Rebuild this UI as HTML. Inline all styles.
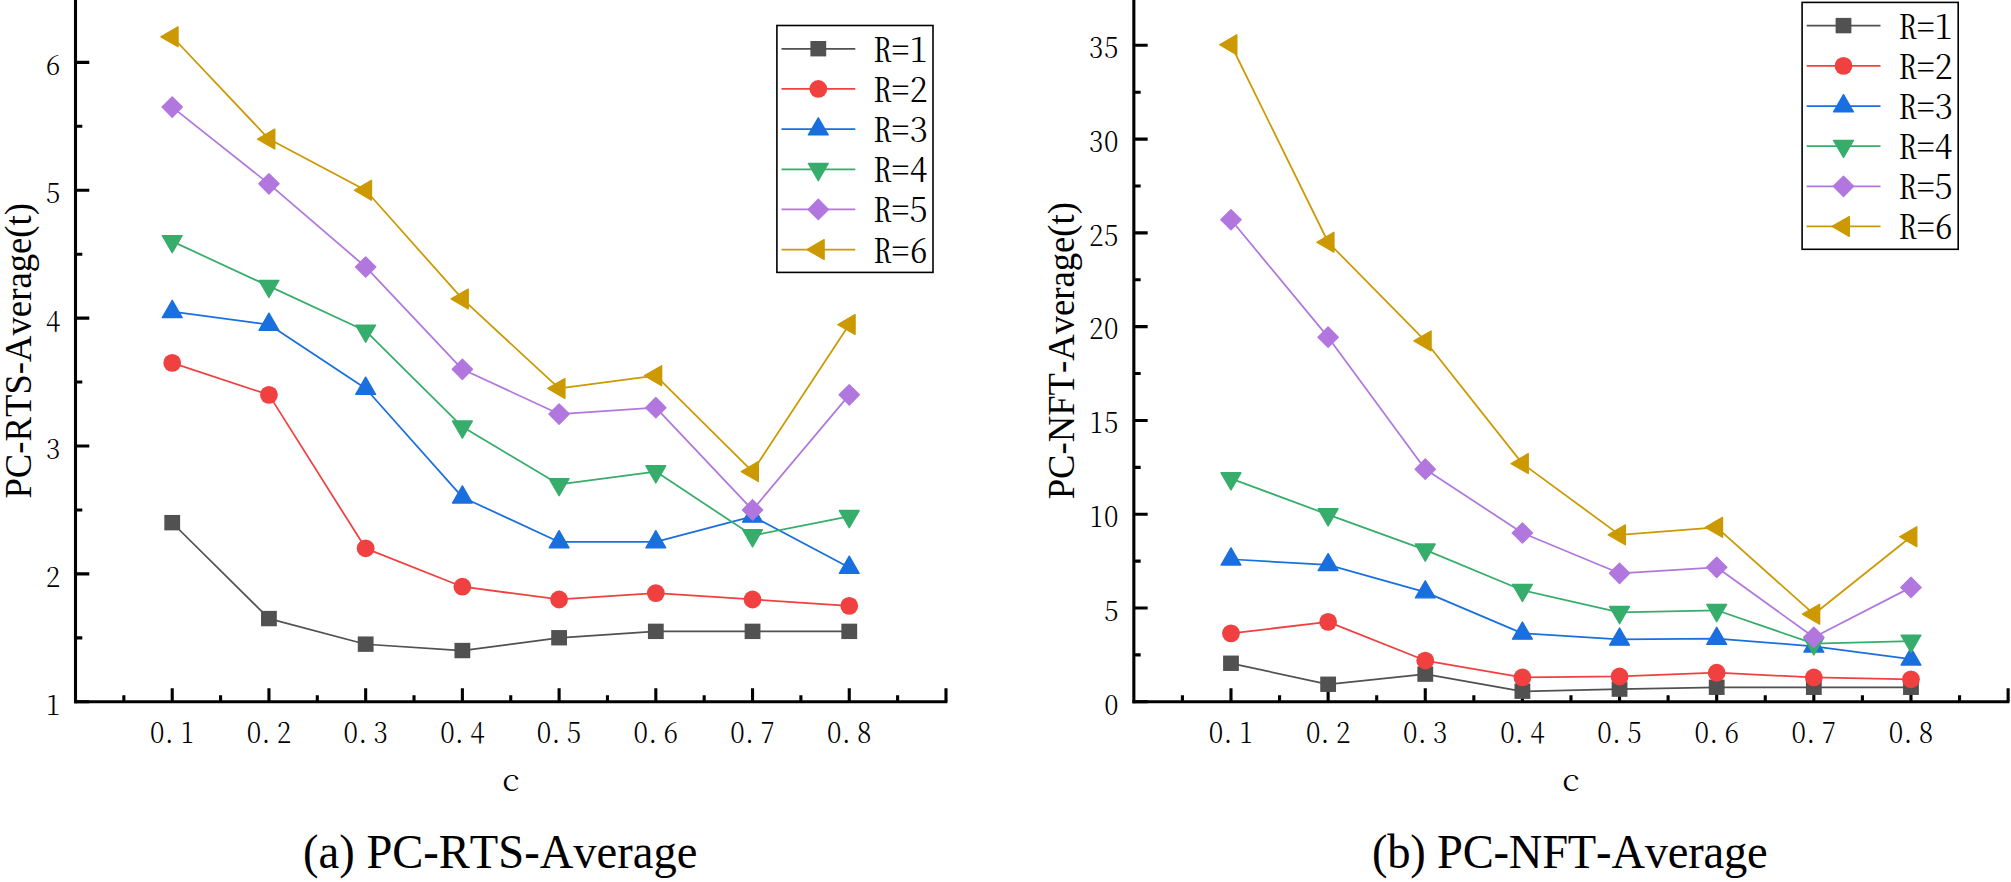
<!DOCTYPE html>
<html lang="en">
<head>
<meta charset="utf-8">
<title>PC-RTS-Average and PC-NFT-Average</title>
<style>
html,body{margin:0;padding:0;background:#fff;}
body{width:2011px;height:882px;overflow:hidden;}
svg{display:block;}
text{white-space:pre;}
</style>
</head>
<body>
<svg width="2011" height="882" viewBox="0 0 2011 882">
<rect width="2011" height="882" fill="#fff"/>
<g id="chart-a">
<g stroke="#000" stroke-width="3.1" fill="none" stroke-linecap="butt">
<path d="M75.5 703.3 V-5"/>
<path d="M74.1 701.8 H947.4"/>
<path d="M123.86 701.8 v-6.6 M172.22 701.8 v-13.6 M220.58 701.8 v-6.6 M268.94 701.8 v-13.6 M317.3 701.8 v-6.6 M365.66 701.8 v-13.6 M414.02 701.8 v-6.6 M462.38 701.8 v-13.6 M510.74 701.8 v-6.6 M559.1 701.8 v-13.6 M607.46 701.8 v-6.6 M655.82 701.8 v-13.6 M704.18 701.8 v-6.6 M752.54 701.8 v-13.6 M800.9 701.8 v-6.6 M849.26 701.8 v-13.6 M897.62 701.8 v-6.6 M945.98 701.8 v-13.6"/>
<path d="M75.5 701.8 h13.8 M75.5 637.85 h6.8 M75.5 573.91 h13.8 M75.5 509.96 h6.8 M75.5 446.02 h13.8 M75.5 382.07 h6.8 M75.5 318.13 h13.8 M75.5 254.18 h6.8 M75.5 190.24 h13.8 M75.5 126.29 h6.8 M75.5 62.35 h13.8 M75.5 -1.6 h6.8"/>
</g>
<g font-family='"Noto Serif CJK SC", "Liberation Serif", serif' font-weight="300" fill="#000">
<text transform="translate(0,743.2) scale(0.93,1)" x="169.05 181.96 201.31" y="0" font-size="28.3" text-anchor="middle">0.1</text>
<text transform="translate(0,743.2) scale(0.93,1)" x="273.05 285.96 305.31" y="0" font-size="28.3" text-anchor="middle">0.2</text>
<text transform="translate(0,743.2) scale(0.93,1)" x="377.05 389.96 409.31" y="0" font-size="28.3" text-anchor="middle">0.3</text>
<text transform="translate(0,743.2) scale(0.93,1)" x="481.05 493.96 513.31" y="0" font-size="28.3" text-anchor="middle">0.4</text>
<text transform="translate(0,743.2) scale(0.93,1)" x="585.05 597.96 617.31" y="0" font-size="28.3" text-anchor="middle">0.5</text>
<text transform="translate(0,743.2) scale(0.93,1)" x="689.05 701.96 721.31" y="0" font-size="28.3" text-anchor="middle">0.6</text>
<text transform="translate(0,743.2) scale(0.93,1)" x="793.05 805.96 825.31" y="0" font-size="28.3" text-anchor="middle">0.7</text>
<text transform="translate(0,743.2) scale(0.93,1)" x="897.05 909.96 929.31" y="0" font-size="28.3" text-anchor="middle">0.8</text>
<text transform="translate(0,714.5) scale(0.93,1)" x="56.99" y="0" font-size="28.3" text-anchor="middle">1</text>
<text transform="translate(0,586.61) scale(0.93,1)" x="56.99" y="0" font-size="28.3" text-anchor="middle">2</text>
<text transform="translate(0,458.72) scale(0.93,1)" x="56.99" y="0" font-size="28.3" text-anchor="middle">3</text>
<text transform="translate(0,330.83) scale(0.93,1)" x="56.99" y="0" font-size="28.3" text-anchor="middle">4</text>
<text transform="translate(0,202.94) scale(0.93,1)" x="56.99" y="0" font-size="28.3" text-anchor="middle">5</text>
<text transform="translate(0,75.05) scale(0.93,1)" x="56.99" y="0" font-size="28.3" text-anchor="middle">6</text>
</g>
<polyline points="172.22,522.75 268.94,618.67 365.66,644.25 462.38,650.64 559.1,637.85 655.82,631.46 752.54,631.46 849.26,631.46" fill="none" stroke="#515151" stroke-width="1.75" stroke-linejoin="round"/>
<g><rect x="164.32" y="514.95" width="15.8" height="15.4" fill="#515151"/><rect x="261.04" y="610.87" width="15.8" height="15.4" fill="#515151"/><rect x="357.76" y="636.45" width="15.8" height="15.4" fill="#515151"/><rect x="454.48" y="642.84" width="15.8" height="15.4" fill="#515151"/><rect x="551.2" y="630.05" width="15.8" height="15.4" fill="#515151"/><rect x="647.92" y="623.66" width="15.8" height="15.4" fill="#515151"/><rect x="744.64" y="623.66" width="15.8" height="15.4" fill="#515151"/><rect x="841.36" y="623.66" width="15.8" height="15.4" fill="#515151"/></g>
<polyline points="172.22,362.89 268.94,394.86 365.66,548.33 462.38,586.7 559.1,599.49 655.82,593.09 752.54,599.49 849.26,605.88" fill="none" stroke="#F14040" stroke-width="1.75" stroke-linejoin="round"/>
<g><circle cx="172.22" cy="362.89" r="8.9" fill="#F14040"/><circle cx="268.94" cy="394.86" r="8.9" fill="#F14040"/><circle cx="365.66" cy="548.33" r="8.9" fill="#F14040"/><circle cx="462.38" cy="586.7" r="8.9" fill="#F14040"/><circle cx="559.1" cy="599.49" r="8.9" fill="#F14040"/><circle cx="655.82" cy="593.09" r="8.9" fill="#F14040"/><circle cx="752.54" cy="599.49" r="8.9" fill="#F14040"/><circle cx="849.26" cy="605.88" r="8.9" fill="#F14040"/></g>
<polyline points="172.22,311.74 268.94,324.52 365.66,388.47 462.38,497.18 559.1,541.94 655.82,541.94 752.54,516.36 849.26,567.52" fill="none" stroke="#1A6FDF" stroke-width="1.75" stroke-linejoin="round"/>
<g><polygon points="172.22,300.44 182.12,317.54 162.32,317.54" fill="#1A6FDF" stroke="#1A6FDF" stroke-width="1.4" stroke-linejoin="round"/><polygon points="268.94,313.22 278.84,330.32 259.04,330.32" fill="#1A6FDF" stroke="#1A6FDF" stroke-width="1.4" stroke-linejoin="round"/><polygon points="365.66,377.17 375.56,394.27 355.76,394.27" fill="#1A6FDF" stroke="#1A6FDF" stroke-width="1.4" stroke-linejoin="round"/><polygon points="462.38,485.88 472.28,502.98 452.48,502.98" fill="#1A6FDF" stroke="#1A6FDF" stroke-width="1.4" stroke-linejoin="round"/><polygon points="559.1,530.64 569,547.74 549.2,547.74" fill="#1A6FDF" stroke="#1A6FDF" stroke-width="1.4" stroke-linejoin="round"/><polygon points="655.82,530.64 665.72,547.74 645.92,547.74" fill="#1A6FDF" stroke="#1A6FDF" stroke-width="1.4" stroke-linejoin="round"/><polygon points="752.54,505.06 762.44,522.16 742.64,522.16" fill="#1A6FDF" stroke="#1A6FDF" stroke-width="1.4" stroke-linejoin="round"/><polygon points="849.26,556.22 859.16,573.32 839.36,573.32" fill="#1A6FDF" stroke="#1A6FDF" stroke-width="1.4" stroke-linejoin="round"/></g>
<polyline points="172.22,241.4 268.94,286.16 365.66,330.92 462.38,426.84 559.1,484.39 655.82,471.6 752.54,535.54 849.26,516.36" fill="none" stroke="#37AD6B" stroke-width="1.75" stroke-linejoin="round"/>
<g><polygon points="172.22,252.7 182.12,235.6 162.32,235.6" fill="#37AD6B" stroke="#37AD6B" stroke-width="1.4" stroke-linejoin="round"/><polygon points="268.94,297.46 278.84,280.36 259.04,280.36" fill="#37AD6B" stroke="#37AD6B" stroke-width="1.4" stroke-linejoin="round"/><polygon points="365.66,342.22 375.56,325.12 355.76,325.12" fill="#37AD6B" stroke="#37AD6B" stroke-width="1.4" stroke-linejoin="round"/><polygon points="462.38,438.14 472.28,421.04 452.48,421.04" fill="#37AD6B" stroke="#37AD6B" stroke-width="1.4" stroke-linejoin="round"/><polygon points="559.1,495.69 569,478.59 549.2,478.59" fill="#37AD6B" stroke="#37AD6B" stroke-width="1.4" stroke-linejoin="round"/><polygon points="655.82,482.9 665.72,465.8 645.92,465.8" fill="#37AD6B" stroke="#37AD6B" stroke-width="1.4" stroke-linejoin="round"/><polygon points="752.54,546.84 762.44,529.74 742.64,529.74" fill="#37AD6B" stroke="#37AD6B" stroke-width="1.4" stroke-linejoin="round"/><polygon points="849.26,527.66 859.16,510.56 839.36,510.56" fill="#37AD6B" stroke="#37AD6B" stroke-width="1.4" stroke-linejoin="round"/></g>
<polyline points="172.22,107.11 268.94,183.85 365.66,266.97 462.38,369.29 559.1,414.05 655.82,407.65 752.54,509.96 849.26,394.86" fill="none" stroke="#B177DE" stroke-width="1.75" stroke-linejoin="round"/>
<g><polygon points="172.22,97.01 182.32,107.11 172.22,117.21 162.12,107.11" fill="#B177DE" stroke="#B177DE" stroke-width="1.4" stroke-linejoin="round"/><polygon points="268.94,173.75 279.04,183.85 268.94,193.95 258.84,183.85" fill="#B177DE" stroke="#B177DE" stroke-width="1.4" stroke-linejoin="round"/><polygon points="365.66,256.87 375.76,266.97 365.66,277.07 355.56,266.97" fill="#B177DE" stroke="#B177DE" stroke-width="1.4" stroke-linejoin="round"/><polygon points="462.38,359.19 472.48,369.29 462.38,379.39 452.28,369.29" fill="#B177DE" stroke="#B177DE" stroke-width="1.4" stroke-linejoin="round"/><polygon points="559.1,403.95 569.2,414.05 559.1,424.15 549,414.05" fill="#B177DE" stroke="#B177DE" stroke-width="1.4" stroke-linejoin="round"/><polygon points="655.82,397.55 665.92,407.65 655.82,417.75 645.72,407.65" fill="#B177DE" stroke="#B177DE" stroke-width="1.4" stroke-linejoin="round"/><polygon points="752.54,499.86 762.64,509.96 752.54,520.06 742.44,509.96" fill="#B177DE" stroke="#B177DE" stroke-width="1.4" stroke-linejoin="round"/><polygon points="849.26,384.76 859.36,394.86 849.26,404.96 839.16,394.86" fill="#B177DE" stroke="#B177DE" stroke-width="1.4" stroke-linejoin="round"/></g>
<polyline points="172.22,36.77 268.94,139.08 365.66,190.24 462.38,298.95 559.1,388.47 655.82,375.68 752.54,471.6 849.26,324.52" fill="none" stroke="#CC9900" stroke-width="1.75" stroke-linejoin="round"/>
<g><polygon points="160.92,36.77 178.02,26.87 178.02,46.67" fill="#CC9900" stroke="#CC9900" stroke-width="1.4" stroke-linejoin="round"/><polygon points="257.64,139.08 274.74,129.18 274.74,148.98" fill="#CC9900" stroke="#CC9900" stroke-width="1.4" stroke-linejoin="round"/><polygon points="354.36,190.24 371.46,180.34 371.46,200.14" fill="#CC9900" stroke="#CC9900" stroke-width="1.4" stroke-linejoin="round"/><polygon points="451.08,298.95 468.18,289.05 468.18,308.85" fill="#CC9900" stroke="#CC9900" stroke-width="1.4" stroke-linejoin="round"/><polygon points="547.8,388.47 564.9,378.57 564.9,398.37" fill="#CC9900" stroke="#CC9900" stroke-width="1.4" stroke-linejoin="round"/><polygon points="644.52,375.68 661.62,365.78 661.62,385.58" fill="#CC9900" stroke="#CC9900" stroke-width="1.4" stroke-linejoin="round"/><polygon points="741.24,471.6 758.34,461.7 758.34,481.5" fill="#CC9900" stroke="#CC9900" stroke-width="1.4" stroke-linejoin="round"/><polygon points="837.96,324.52 855.06,314.62 855.06,334.42" fill="#CC9900" stroke="#CC9900" stroke-width="1.4" stroke-linejoin="round"/></g>
<rect x="776.9" y="25.5" width="156.1" height="246.9" fill="#fff" stroke="#000" stroke-width="1.6"/>
<path d="M781.5 48.8 H855.3" stroke="#515151" stroke-width="1.75"/>
<rect x="810.4" y="41" width="15.8" height="15.4" fill="#515151"/>
<text transform="translate(0,61.8) scale(1.085,1)" x="813.09 829.86 846.64" y="0" font-size="33" text-anchor="middle" font-family='"Noto Serif CJK SC", "Liberation Serif", serif' font-weight="300" style="font-feature-settings:'hwid'">R=1</text>
<path d="M781.5 88.95 H855.3" stroke="#F14040" stroke-width="1.75"/>
<circle cx="818.3" cy="88.95" r="8.9" fill="#F14040"/>
<text transform="translate(0,101.95) scale(1.085,1)" x="813.09 829.86 846.64" y="0" font-size="33" text-anchor="middle" font-family='"Noto Serif CJK SC", "Liberation Serif", serif' font-weight="300" style="font-feature-settings:'hwid'">R=2</text>
<path d="M781.5 129.1 H855.3" stroke="#1A6FDF" stroke-width="1.75"/>
<polygon points="818.3,117.8 828.2,134.9 808.4,134.9" fill="#1A6FDF" stroke="#1A6FDF" stroke-width="1.4" stroke-linejoin="round"/>
<text transform="translate(0,142.1) scale(1.085,1)" x="813.09 829.86 846.64" y="0" font-size="33" text-anchor="middle" font-family='"Noto Serif CJK SC", "Liberation Serif", serif' font-weight="300" style="font-feature-settings:'hwid'">R=3</text>
<path d="M781.5 169.25 H855.3" stroke="#37AD6B" stroke-width="1.75"/>
<polygon points="818.3,180.55 828.2,163.45 808.4,163.45" fill="#37AD6B" stroke="#37AD6B" stroke-width="1.4" stroke-linejoin="round"/>
<text transform="translate(0,182.25) scale(1.085,1)" x="813.09 829.86 846.64" y="0" font-size="33" text-anchor="middle" font-family='"Noto Serif CJK SC", "Liberation Serif", serif' font-weight="300" style="font-feature-settings:'hwid'">R=4</text>
<path d="M781.5 209.4 H855.3" stroke="#B177DE" stroke-width="1.75"/>
<polygon points="818.3,199.3 828.4,209.4 818.3,219.5 808.2,209.4" fill="#B177DE" stroke="#B177DE" stroke-width="1.4" stroke-linejoin="round"/>
<text transform="translate(0,222.4) scale(1.085,1)" x="813.09 829.86 846.64" y="0" font-size="33" text-anchor="middle" font-family='"Noto Serif CJK SC", "Liberation Serif", serif' font-weight="300" style="font-feature-settings:'hwid'">R=5</text>
<path d="M781.5 249.55 H855.3" stroke="#CC9900" stroke-width="1.75"/>
<polygon points="807,249.55 824.1,239.65 824.1,259.45" fill="#CC9900" stroke="#CC9900" stroke-width="1.4" stroke-linejoin="round"/>
<text transform="translate(0,262.55) scale(1.085,1)" x="813.09 829.86 846.64" y="0" font-size="33" text-anchor="middle" font-family='"Noto Serif CJK SC", "Liberation Serif", serif' font-weight="300" style="font-feature-settings:'hwid'">R=6</text>
<text transform="translate(510.9,791.1) scale(1.03,1)" x="0" y="0" font-size="31.8" text-anchor="middle" font-family='"Noto Serif CJK SC", "Liberation Serif", serif' font-weight="300">c</text>
<text transform="translate(31,350.8) rotate(-90) scale(1,1.04)" x="0" y="0" font-size="36.68" text-anchor="middle" textLength="295.5" lengthAdjust="spacing" font-family='"Liberation Serif", "Noto Serif CJK SC", serif' style="font-kerning:none">PC-RTS-Average(t)</text>
<text transform="translate(303.07,868.1) scale(1,1.03)" x="0" y="0" font-size="46.56" textLength="394.3" lengthAdjust="spacing" font-family='"Liberation Serif", "Noto Serif CJK SC", serif' style="font-kerning:none">(a) PC-RTS-Average</text>
</g>
<g id="chart-b">
<g stroke="#000" stroke-width="3.1" fill="none" stroke-linecap="butt">
<path d="M1133.85 703.3 V-5"/>
<path d="M1132.45 701.8 H2009.4"/>
<path d="M1182.42 701.8 v-6.6 M1230.99 701.8 v-13.6 M1279.56 701.8 v-6.6 M1328.13 701.8 v-13.6 M1376.7 701.8 v-6.6 M1425.27 701.8 v-13.6 M1473.84 701.8 v-6.6 M1522.41 701.8 v-13.6 M1570.98 701.8 v-6.6 M1619.55 701.8 v-13.6 M1668.12 701.8 v-6.6 M1716.69 701.8 v-13.6 M1765.26 701.8 v-6.6 M1813.83 701.8 v-13.6 M1862.4 701.8 v-6.6 M1910.97 701.8 v-13.6 M1959.54 701.8 v-6.6 M2008.11 701.8 v-13.6"/>
<path d="M1133.85 701.8 h13.8 M1133.85 654.91 h6.8 M1133.85 608.01 h13.8 M1133.85 561.12 h6.8 M1133.85 514.23 h13.8 M1133.85 467.34 h6.8 M1133.85 420.44 h13.8 M1133.85 373.55 h6.8 M1133.85 326.66 h13.8 M1133.85 279.77 h6.8 M1133.85 232.87 h13.8 M1133.85 185.98 h6.8 M1133.85 139.09 h13.8 M1133.85 92.2 h6.8 M1133.85 45.3 h13.8 M1133.85 -1.59 h6.8"/>
</g>
<g font-family='"Noto Serif CJK SC", "Liberation Serif", serif' font-weight="300" fill="#000">
<text transform="translate(0,743.2) scale(0.93,1)" x="1307.52 1320.42 1339.77" y="0" font-size="28.3" text-anchor="middle">0.1</text>
<text transform="translate(0,743.2) scale(0.93,1)" x="1411.97 1424.87 1444.23" y="0" font-size="28.3" text-anchor="middle">0.2</text>
<text transform="translate(0,743.2) scale(0.93,1)" x="1516.42 1529.32 1548.68" y="0" font-size="28.3" text-anchor="middle">0.3</text>
<text transform="translate(0,743.2) scale(0.93,1)" x="1620.87 1633.77 1653.13" y="0" font-size="28.3" text-anchor="middle">0.4</text>
<text transform="translate(0,743.2) scale(0.93,1)" x="1725.32 1738.23 1757.58" y="0" font-size="28.3" text-anchor="middle">0.5</text>
<text transform="translate(0,743.2) scale(0.93,1)" x="1829.77 1842.68 1862.03" y="0" font-size="28.3" text-anchor="middle">0.6</text>
<text transform="translate(0,743.2) scale(0.93,1)" x="1934.23 1947.13 1966.48" y="0" font-size="28.3" text-anchor="middle">0.7</text>
<text transform="translate(0,743.2) scale(0.93,1)" x="2038.68 2051.58 2070.94" y="0" font-size="28.3" text-anchor="middle">0.8</text>
<text transform="translate(0,714.5) scale(0.93,1)" x="1195" y="0" font-size="28.3" text-anchor="middle">0</text>
<text transform="translate(0,620.72) scale(0.93,1)" x="1195" y="0" font-size="28.3" text-anchor="middle">5</text>
<text transform="translate(0,526.93) scale(0.93,1)" x="1178.87 1195" y="0" font-size="28.3" text-anchor="middle">10</text>
<text transform="translate(0,433.14) scale(0.93,1)" x="1178.87 1195" y="0" font-size="28.3" text-anchor="middle">15</text>
<text transform="translate(0,339.36) scale(0.93,1)" x="1178.87 1195" y="0" font-size="28.3" text-anchor="middle">20</text>
<text transform="translate(0,245.57) scale(0.93,1)" x="1178.87 1195" y="0" font-size="28.3" text-anchor="middle">25</text>
<text transform="translate(0,151.79) scale(0.93,1)" x="1178.87 1195" y="0" font-size="28.3" text-anchor="middle">30</text>
<text transform="translate(0,58) scale(0.93,1)" x="1178.87 1195" y="0" font-size="28.3" text-anchor="middle">35</text>
</g>
<polyline points="1230.99,663.35 1328.13,684.36 1425.27,674.23 1522.41,691.3 1619.55,689.23 1716.69,687.36 1813.83,687.36 1910.97,687.36" fill="none" stroke="#515151" stroke-width="1.75" stroke-linejoin="round"/>
<g><rect x="1223.09" y="655.55" width="15.8" height="15.4" fill="#515151"/><rect x="1320.23" y="676.56" width="15.8" height="15.4" fill="#515151"/><rect x="1417.37" y="666.43" width="15.8" height="15.4" fill="#515151"/><rect x="1514.51" y="683.5" width="15.8" height="15.4" fill="#515151"/><rect x="1611.65" y="681.43" width="15.8" height="15.4" fill="#515151"/><rect x="1708.79" y="679.56" width="15.8" height="15.4" fill="#515151"/><rect x="1805.93" y="679.56" width="15.8" height="15.4" fill="#515151"/><rect x="1903.07" y="679.56" width="15.8" height="15.4" fill="#515151"/></g>
<polyline points="1230.99,633.34 1328.13,621.9 1425.27,660.53 1522.41,677.42 1619.55,676.48 1716.69,672.73 1813.83,677.42 1910.97,679.29" fill="none" stroke="#F14040" stroke-width="1.75" stroke-linejoin="round"/>
<g><circle cx="1230.99" cy="633.34" r="8.9" fill="#F14040"/><circle cx="1328.13" cy="621.9" r="8.9" fill="#F14040"/><circle cx="1425.27" cy="660.53" r="8.9" fill="#F14040"/><circle cx="1522.41" cy="677.42" r="8.9" fill="#F14040"/><circle cx="1619.55" cy="676.48" r="8.9" fill="#F14040"/><circle cx="1716.69" cy="672.73" r="8.9" fill="#F14040"/><circle cx="1813.83" cy="677.42" r="8.9" fill="#F14040"/><circle cx="1910.97" cy="679.29" r="8.9" fill="#F14040"/></g>
<polyline points="1230.99,559.25 1328.13,564.87 1425.27,592.07 1522.41,633.34 1619.55,639.34 1716.69,638.59 1813.83,646.28 1910.97,659.22" fill="none" stroke="#1A6FDF" stroke-width="1.75" stroke-linejoin="round"/>
<g><polygon points="1230.99,547.95 1240.89,565.05 1221.09,565.05" fill="#1A6FDF" stroke="#1A6FDF" stroke-width="1.4" stroke-linejoin="round"/><polygon points="1328.13,553.57 1338.03,570.67 1318.23,570.67" fill="#1A6FDF" stroke="#1A6FDF" stroke-width="1.4" stroke-linejoin="round"/><polygon points="1425.27,580.77 1435.17,597.87 1415.37,597.87" fill="#1A6FDF" stroke="#1A6FDF" stroke-width="1.4" stroke-linejoin="round"/><polygon points="1522.41,622.04 1532.31,639.14 1512.51,639.14" fill="#1A6FDF" stroke="#1A6FDF" stroke-width="1.4" stroke-linejoin="round"/><polygon points="1619.55,628.04 1629.45,645.14 1609.65,645.14" fill="#1A6FDF" stroke="#1A6FDF" stroke-width="1.4" stroke-linejoin="round"/><polygon points="1716.69,627.29 1726.59,644.39 1706.79,644.39" fill="#1A6FDF" stroke="#1A6FDF" stroke-width="1.4" stroke-linejoin="round"/><polygon points="1813.83,634.98 1823.73,652.08 1803.93,652.08" fill="#1A6FDF" stroke="#1A6FDF" stroke-width="1.4" stroke-linejoin="round"/><polygon points="1910.97,647.92 1920.87,665.02 1901.07,665.02" fill="#1A6FDF" stroke="#1A6FDF" stroke-width="1.4" stroke-linejoin="round"/></g>
<polyline points="1230.99,478.59 1328.13,514.61 1425.27,549.87 1522.41,590.2 1619.55,612.33 1716.69,610.27 1813.83,643.65 1910.97,641.03" fill="none" stroke="#37AD6B" stroke-width="1.75" stroke-linejoin="round"/>
<g><polygon points="1230.99,489.89 1240.89,472.79 1221.09,472.79" fill="#37AD6B" stroke="#37AD6B" stroke-width="1.4" stroke-linejoin="round"/><polygon points="1328.13,525.91 1338.03,508.81 1318.23,508.81" fill="#37AD6B" stroke="#37AD6B" stroke-width="1.4" stroke-linejoin="round"/><polygon points="1425.27,561.17 1435.17,544.07 1415.37,544.07" fill="#37AD6B" stroke="#37AD6B" stroke-width="1.4" stroke-linejoin="round"/><polygon points="1522.41,601.5 1532.31,584.4 1512.51,584.4" fill="#37AD6B" stroke="#37AD6B" stroke-width="1.4" stroke-linejoin="round"/><polygon points="1619.55,623.63 1629.45,606.53 1609.65,606.53" fill="#37AD6B" stroke="#37AD6B" stroke-width="1.4" stroke-linejoin="round"/><polygon points="1716.69,621.57 1726.59,604.47 1706.79,604.47" fill="#37AD6B" stroke="#37AD6B" stroke-width="1.4" stroke-linejoin="round"/><polygon points="1813.83,654.95 1823.73,637.85 1803.93,637.85" fill="#37AD6B" stroke="#37AD6B" stroke-width="1.4" stroke-linejoin="round"/><polygon points="1910.97,652.33 1920.87,635.23 1901.07,635.23" fill="#37AD6B" stroke="#37AD6B" stroke-width="1.4" stroke-linejoin="round"/></g>
<polyline points="1230.99,219.75 1328.13,337.16 1425.27,469.21 1522.41,532.99 1619.55,573.31 1716.69,567.31 1813.83,637.28 1910.97,587.38" fill="none" stroke="#B177DE" stroke-width="1.75" stroke-linejoin="round"/>
<g><polygon points="1230.99,209.65 1241.09,219.75 1230.99,229.85 1220.89,219.75" fill="#B177DE" stroke="#B177DE" stroke-width="1.4" stroke-linejoin="round"/><polygon points="1328.13,327.06 1338.23,337.16 1328.13,347.26 1318.03,337.16" fill="#B177DE" stroke="#B177DE" stroke-width="1.4" stroke-linejoin="round"/><polygon points="1425.27,459.11 1435.37,469.21 1425.27,479.31 1415.17,469.21" fill="#B177DE" stroke="#B177DE" stroke-width="1.4" stroke-linejoin="round"/><polygon points="1522.41,522.89 1532.51,532.99 1522.41,543.09 1512.31,532.99" fill="#B177DE" stroke="#B177DE" stroke-width="1.4" stroke-linejoin="round"/><polygon points="1619.55,563.21 1629.65,573.31 1619.55,583.41 1609.45,573.31" fill="#B177DE" stroke="#B177DE" stroke-width="1.4" stroke-linejoin="round"/><polygon points="1716.69,557.21 1726.79,567.31 1716.69,577.41 1706.59,567.31" fill="#B177DE" stroke="#B177DE" stroke-width="1.4" stroke-linejoin="round"/><polygon points="1813.83,627.18 1823.93,637.28 1813.83,647.38 1803.73,637.28" fill="#B177DE" stroke="#B177DE" stroke-width="1.4" stroke-linejoin="round"/><polygon points="1910.97,577.28 1921.07,587.38 1910.97,597.48 1900.87,587.38" fill="#B177DE" stroke="#B177DE" stroke-width="1.4" stroke-linejoin="round"/></g>
<polyline points="1230.99,44.74 1328.13,242.25 1425.27,340.92 1522.41,463.59 1619.55,534.86 1716.69,527.36 1813.83,614.2 1910.97,536.74" fill="none" stroke="#CC9900" stroke-width="1.75" stroke-linejoin="round"/>
<g><polygon points="1219.69,44.74 1236.79,34.84 1236.79,54.64" fill="#CC9900" stroke="#CC9900" stroke-width="1.4" stroke-linejoin="round"/><polygon points="1316.83,242.25 1333.93,232.35 1333.93,252.15" fill="#CC9900" stroke="#CC9900" stroke-width="1.4" stroke-linejoin="round"/><polygon points="1413.97,340.92 1431.07,331.02 1431.07,350.82" fill="#CC9900" stroke="#CC9900" stroke-width="1.4" stroke-linejoin="round"/><polygon points="1511.11,463.59 1528.21,453.69 1528.21,473.49" fill="#CC9900" stroke="#CC9900" stroke-width="1.4" stroke-linejoin="round"/><polygon points="1608.25,534.86 1625.35,524.96 1625.35,544.76" fill="#CC9900" stroke="#CC9900" stroke-width="1.4" stroke-linejoin="round"/><polygon points="1705.39,527.36 1722.49,517.46 1722.49,537.26" fill="#CC9900" stroke="#CC9900" stroke-width="1.4" stroke-linejoin="round"/><polygon points="1802.53,614.2 1819.63,604.3 1819.63,624.1" fill="#CC9900" stroke="#CC9900" stroke-width="1.4" stroke-linejoin="round"/><polygon points="1899.67,536.74 1916.77,526.84 1916.77,546.64" fill="#CC9900" stroke="#CC9900" stroke-width="1.4" stroke-linejoin="round"/></g>
<rect x="1802.1" y="2.4" width="156.1" height="246.9" fill="#fff" stroke="#000" stroke-width="1.6"/>
<path d="M1806.7 25.7 H1880.5" stroke="#515151" stroke-width="1.75"/>
<rect x="1835.6" y="17.9" width="15.8" height="15.4" fill="#515151"/>
<text transform="translate(0,38.7) scale(1.085,1)" x="1757.97 1774.75 1791.52" y="0" font-size="33" text-anchor="middle" font-family='"Noto Serif CJK SC", "Liberation Serif", serif' font-weight="300" style="font-feature-settings:'hwid'">R=1</text>
<path d="M1806.7 65.85 H1880.5" stroke="#F14040" stroke-width="1.75"/>
<circle cx="1843.5" cy="65.85" r="8.9" fill="#F14040"/>
<text transform="translate(0,78.85) scale(1.085,1)" x="1757.97 1774.75 1791.52" y="0" font-size="33" text-anchor="middle" font-family='"Noto Serif CJK SC", "Liberation Serif", serif' font-weight="300" style="font-feature-settings:'hwid'">R=2</text>
<path d="M1806.7 106 H1880.5" stroke="#1A6FDF" stroke-width="1.75"/>
<polygon points="1843.5,94.7 1853.4,111.8 1833.6,111.8" fill="#1A6FDF" stroke="#1A6FDF" stroke-width="1.4" stroke-linejoin="round"/>
<text transform="translate(0,119) scale(1.085,1)" x="1757.97 1774.75 1791.52" y="0" font-size="33" text-anchor="middle" font-family='"Noto Serif CJK SC", "Liberation Serif", serif' font-weight="300" style="font-feature-settings:'hwid'">R=3</text>
<path d="M1806.7 146.15 H1880.5" stroke="#37AD6B" stroke-width="1.75"/>
<polygon points="1843.5,157.45 1853.4,140.35 1833.6,140.35" fill="#37AD6B" stroke="#37AD6B" stroke-width="1.4" stroke-linejoin="round"/>
<text transform="translate(0,159.15) scale(1.085,1)" x="1757.97 1774.75 1791.52" y="0" font-size="33" text-anchor="middle" font-family='"Noto Serif CJK SC", "Liberation Serif", serif' font-weight="300" style="font-feature-settings:'hwid'">R=4</text>
<path d="M1806.7 186.3 H1880.5" stroke="#B177DE" stroke-width="1.75"/>
<polygon points="1843.5,176.2 1853.6,186.3 1843.5,196.4 1833.4,186.3" fill="#B177DE" stroke="#B177DE" stroke-width="1.4" stroke-linejoin="round"/>
<text transform="translate(0,199.3) scale(1.085,1)" x="1757.97 1774.75 1791.52" y="0" font-size="33" text-anchor="middle" font-family='"Noto Serif CJK SC", "Liberation Serif", serif' font-weight="300" style="font-feature-settings:'hwid'">R=5</text>
<path d="M1806.7 226.45 H1880.5" stroke="#CC9900" stroke-width="1.75"/>
<polygon points="1832.2,226.45 1849.3,216.55 1849.3,236.35" fill="#CC9900" stroke="#CC9900" stroke-width="1.4" stroke-linejoin="round"/>
<text transform="translate(0,239.45) scale(1.085,1)" x="1757.97 1774.75 1791.52" y="0" font-size="33" text-anchor="middle" font-family='"Noto Serif CJK SC", "Liberation Serif", serif' font-weight="300" style="font-feature-settings:'hwid'">R=6</text>
<text transform="translate(1571,791.1) scale(1.03,1)" x="0" y="0" font-size="31.8" text-anchor="middle" font-family='"Noto Serif CJK SC", "Liberation Serif", serif' font-weight="300">c</text>
<text transform="translate(1073.9,350.7) rotate(-90) scale(1,1.04)" x="0" y="0" font-size="36.68" text-anchor="middle" textLength="297.3" lengthAdjust="spacing" font-family='"Liberation Serif", "Noto Serif CJK SC", serif' style="font-kerning:none">PC-NFT-Average(t)</text>
<text transform="translate(1371.97,868.1) scale(1,1.03)" x="0" y="0" font-size="46.56" textLength="395.8" lengthAdjust="spacing" font-family='"Liberation Serif", "Noto Serif CJK SC", serif' style="font-kerning:none">(b) PC-NFT-Average</text>
</g>
</svg>
</body>
</html>
